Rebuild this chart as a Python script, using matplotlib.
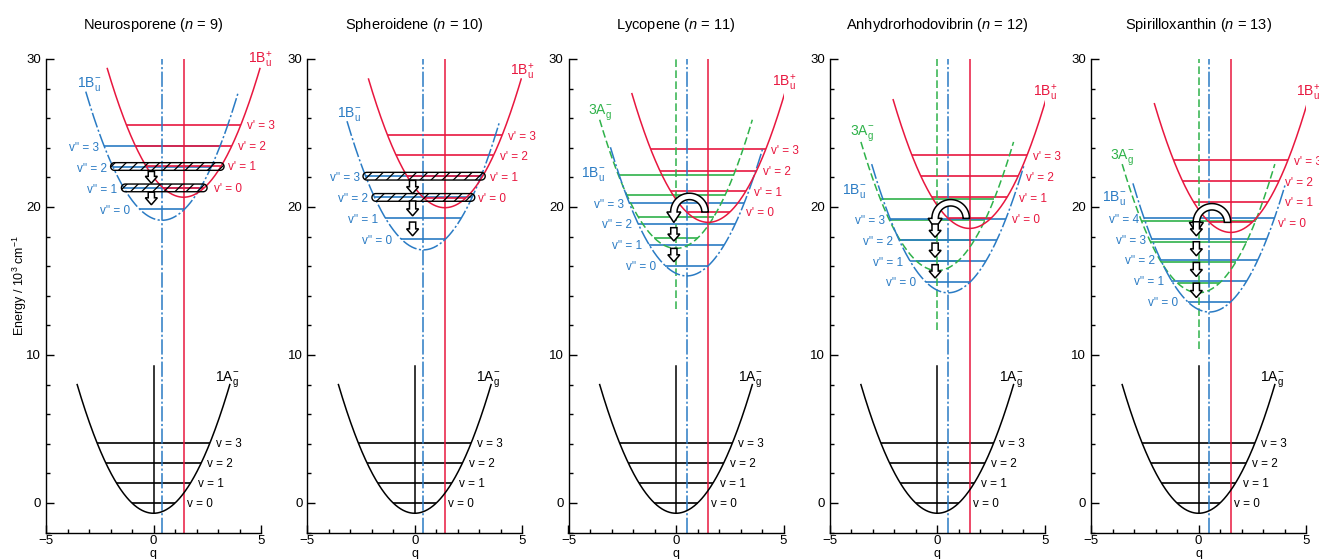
import numpy as np
import matplotlib
matplotlib.use("Agg")
import matplotlib.pyplot as plt
from matplotlib.patches import Polygon, FancyArrow
from matplotlib.ticker import MultipleLocator

plt.rcParams['font.family'] = ['Liberation Sans', 'DejaVu Sans']
plt.rcParams['mathtext.fontset'] = 'custom'
plt.rcParams['mathtext.rm'] = 'Liberation Sans'
plt.rcParams['mathtext.it'] = 'Liberation Sans:italic'
plt.rcParams['mathtext.bf'] = 'Liberation Sans:bold'
plt.rcParams['hatch.linewidth'] = 0.9

# ---------------------------------------------------------------- data
names = ["Neurosporene", "Spheroidene", "Lycopene", "Anhydrorhodovibrin", "Spirilloxanthin"]
n_conj = [9, 10, 11, 12, 13]

# energies in 10^3 cm^-1, displacements along q
ground_min = -0.7
ground_levels = [0.0, 1.35, 2.7, 4.05]
ground_line_top = 9.25

bu_minus_shift = [0.4, 0.4, 0.5, 0.5, 0.5]
bu_plus_shift = [1.4, 1.4, 1.5, 1.5, 1.5]
ag3_shift = [None, None, 0.0, 0.0, 0.0]

bu_minus_min = [19.10, 17.10, 15.34, 14.20, 12.90]
bu_plus_min = [20.66, 19.95, 18.96, 18.55, 18.28]
ag3_min = [None, None, 17.20, 15.70, 14.20]
ag3_line_bottom = [None, None, 13.1, 11.7, 10.4]

bu_minus_levels = [
    [19.84, 21.27, 22.67, 24.09],
    [17.83, 19.25, 20.66, 22.08],
    [16.02, 17.44, 18.85, 20.25],
    [14.94, 16.34, 17.76, 19.17],
    [13.60, 15.03, 16.43, 17.83, 19.23],
]
bu_plus_levels = [
    [21.31, 22.80, 24.14, 25.56],
    [20.63, 22.08, 23.48, 24.86],
    [19.66, 21.06, 22.46, 23.89],
    [19.23, 20.66, 22.08, 23.48],
    [18.96, 20.36, 21.74, 23.16],
]
ag3_levels = [
    [],
    [],
    [17.90, 19.35, 20.80, 22.17],
    [16.32, 17.74, 19.15, 20.56],
    [14.83, 16.25, 17.65, 19.05],
]

# mixed vibronic pairs (1Bu- index, 1Bu+ index)
mixed_pairs = [[(2, 1), (1, 0)], [(3, 1), (2, 0)], [], [], []]

# downhill relaxation steps (start, end)
relax_steps = [
    [(22.40, 21.60), (21.00, 20.15)],
    [(21.80, 20.90), (20.40, 19.40), (18.98, 18.05)],
    [(18.60, 17.70), (17.20, 16.30)],
    [(18.85, 17.95), (17.56, 16.60), (16.10, 15.20)],
    [(19.00, 18.05), (17.65, 16.70), (16.25, 15.30), (14.85, 13.88)],
]
has_crossing = [False, False, True, True, True]

# state-label anchors (q, E)
bu_plus_label_at = [(4.40, 29.69), (4.41, 28.90), (4.48, 28.14), (4.47, 27.44), (4.55, 27.44)]
bu_minus_label_at = [(-3.57, 28.14), (-3.61, 26.08), (-4.43, 22.00), (-4.43, 20.88), (-4.47, 20.43)]
ag3_label_at = [None, None, (-4.09, 26.30), (-4.08, 24.83), (-4.13, 23.25)]
ground_label_at = (2.87, 8.22)

# ---------------------------------------------------------------- style
RED = '#e8173f'
BLUE = '#2a7bc4'
GREEN = '#2fb24a'
K = 0.69
SPAN = 3.55
DASHDOT = (0, (10, 1.6, 1.4, 1.6))
DASHED = (0, (5, 2.2))
ARROW_Q = -0.1

W, H = 1319, 559
AX_W = 215.0
AX_TOP, AX_BOT = 59.0, 532.5
Q_PER_PX = 10.0 / AX_W
E_PER_PX = 32.0 / (AX_BOT - AX_TOP)


def half_width(e, emin):
    return np.sqrt(max(e - emin, 0.0) / K)


def branch(e, c, emin, side):
    hw = half_width(e, emin)
    if hw > SPAN or e < emin:
        return None, None
    return c + side * hw, hw


def well(ax, c, emin, color, ls, lw, z=3):
    q = np.linspace(c - SPAN, c + SPAN, 300)
    ax.plot(q, emin + K * (q - c) ** 2, color=color, ls=ls, lw=lw, zorder=z)


def level(ax, c, emin, e, color, z=2):
    hw = half_width(e, emin)
    ax.plot([c - hw, c + hw], [e, e], color=color, lw=1.2, zorder=z,
            solid_capstyle='butt')


def label_x(e, curves, side, extra=None):
    best, slope_hw = None, None
    for c, emin in curves:
        x, hw = branch(e, c, emin, side)
        if x is None:
            continue
        if best is None or side * x > side * best:
            best, slope_hw = x, hw
    x = best + side * (0.15 + 0.3 / max(slope_hw, 0.5))
    if extra is not None:
        x = max(x, extra) if side > 0 else min(x, extra)
    return x


def stadium(ax, x0, x1, yc, h=0.26):
    rq = (h / E_PER_PX) * Q_PER_PX
    t = np.linspace(-np.pi / 2, np.pi / 2, 24)
    right = [(x1 - rq + rq * np.cos(a), yc + h * np.sin(a)) for a in t]
    t2 = np.linspace(np.pi / 2, 3 * np.pi / 2, 24)
    left = [(x0 + rq + rq * np.cos(a), yc + h * np.sin(a)) for a in t2]
    ax.add_patch(Polygon(right + left, closed=True, facecolor='none',
                         edgecolor='black', hatch='///', lw=1.0, zorder=5))


def u_turn(ax, x_right, x_left, y0):
    cx = 0.5 * (x_right + x_left)
    rm = 0.5 * (x_right - x_left) / Q_PER_PX
    hb = 3.2
    ro, ri = rm + hb, rm - hb
    t = np.linspace(0, np.pi, 60)
    outer = [(ro * np.cos(a), ro * np.sin(a)) for a in t]
    inner = [(ri * np.cos(a), ri * np.sin(a)) for a in t[::-1]]
    head = [(-rm - 7.0, 0.0), (-rm, -10.5), (-rm + 7.0, 0.0)]
    pts = outer + head + inner
    verts = [(cx + px * Q_PER_PX, y0 + py * E_PER_PX) for px, py in pts]
    ax.add_patch(Polygon(verts, closed=True, facecolor='white',
                         edgecolor='black', lw=1.1, zorder=7))


def down_arrow(ax, x, e0, e1):
    ax.add_patch(FancyArrow(x, e0, 0.0, e1 - e0, width=0.29, head_width=0.56,
                            head_length=0.47, length_includes_head=True,
                            facecolor='white', edgecolor='black', lw=1.1,
                            zorder=7))


# ---------------------------------------------------------------- figure
fig = plt.figure(figsize=(W / 100, H / 100), dpi=100)

for i in range(5):
    left_px = 46 + 261.25 * i
    ax = fig.add_axes([left_px / W, (H - AX_BOT) / H, AX_W / W, (AX_BOT - AX_TOP) / H])
    ax.set_xlim(-5, 5)
    ax.set_ylim(-2, 30)
    for s in ('top', 'right'):
        ax.spines[s].set_visible(False)
    for s in ('left', 'bottom'):
        ax.spines[s].set_linewidth(1.0)
    ax.xaxis.set_major_locator(MultipleLocator(5))
    ax.xaxis.set_minor_locator(MultipleLocator(1))
    ax.yaxis.set_major_locator(MultipleLocator(10))
    ax.yaxis.set_minor_locator(MultipleLocator(2))
    ax.tick_params(which='both', direction='in', width=1.0, labelsize=9.5)
    ax.tick_params(which='major', length=6)
    ax.tick_params(which='minor', length=3)
    ax.tick_params(axis='x', pad=2)
    ax.tick_params(axis='y', pad=3.5)

    cb, cr = bu_minus_shift[i], bu_plus_shift[i]
    mb, mr = bu_minus_min[i], bu_plus_min[i]

    # ground state 1Ag-
    well(ax, 0.0, ground_min, 'black', '-', 1.1)
    ax.plot([0, 0], [ground_min, ground_line_top], color='black', lw=1.1, zorder=3)
    for v, e in enumerate(ground_levels):
        level(ax, 0.0, ground_min, e, 'black')
        x = label_x(e, [(0.0, ground_min)], +1, extra=cr + 0.15)
        ax.text(x, e, f"v = {v}", fontsize=8.5, ha='left', va='center_baseline', color='black')
    ax.text(*ground_label_at, r'1A$_{\mathrm{g}}^{-}$', fontsize=10, ha='left',
            va='baseline', color='black')

    # 3Ag- state
    if ag3_min[i] is not None:
        cg, mg = ag3_shift[i], ag3_min[i]
        for e in ag3_levels[i]:
            level(ax, cg, mg, e, GREEN, z=2)
        well(ax, cg, mg, GREEN, DASHED, 1.1)
        ax.plot([cg, cg], [ag3_line_bottom[i], 30], color=GREEN, ls=DASHED, lw=1.1, zorder=2.5)
        lx, ly = ag3_label_at[i]
        ax.text(lx, ly, r'3A$_{\mathrm{g}}^{-}$', color=GREEN, fontsize=10,
                ha='left', va='baseline', zorder=8)

    # box extents for mixed levels
    box_left, box_right = {}, {}
    boxes = []
    for ib, ir in mixed_pairs[i]:
        eb, er = bu_minus_levels[i][ib], bu_plus_levels[i][ir]
        x0 = min(cb - half_width(eb, mb), cr - half_width(er, mr)) - 0.12
        x1 = max(cb + half_width(eb, mb), cr + half_width(er, mr)) + 0.12
        boxes.append((x0, x1, 0.5 * (eb + er)))
        box_left[ib] = x0
        box_right[ir] = x1

    # 1Bu- state
    for v, e in enumerate(bu_minus_levels[i]):
        level(ax, cb, mb, e, BLUE, z=2.2)
        x = label_x(e, [(cb, mb)], -1)
        if v in box_left:
            x = min(x, box_left[v] - 0.1)
        ax.text(x, e, f"v'' = {v}", fontsize=8.5, ha='right', va='center_baseline', color=BLUE)
    well(ax, cb, mb, BLUE, DASHDOT, 1.1)
    ax.axvline(cb, color=BLUE, ls=DASHDOT, lw=1.1, zorder=2.5)

    # 1Bu+ state
    for v, e in enumerate(bu_plus_levels[i]):
        level(ax, cr, mr, e, RED, z=2.2)
        x = label_x(e, [(cr, mr), (cb, mb)], +1)
        if v in box_right:
            x = max(x, box_right[v] + 0.1)
        ax.text(x, e, f"v' = {v}", fontsize=8.5, ha='left', va='center_baseline', color=RED)
    well(ax, cr, mr, RED, '-', 1.1)
    ax.axvline(cr, color=RED, lw=1.1, zorder=2.5)

    ax.text(*bu_plus_label_at[i], r'1B$_{\mathrm{u}}^{+}$', color=RED, fontsize=10,
            ha='left', va='baseline', zorder=8)
    ax.text(*bu_minus_label_at[i], r'1B$_{\mathrm{u}}^{-}$', color=BLUE, fontsize=10,
            ha='left', va='baseline', zorder=8)

    for x0, x1, yc in boxes:
        stadium(ax, x0, x1, yc)

    if has_crossing[i]:
        u_turn(ax, cr - 0.15, ARROW_Q, bu_plus_levels[i][0])
    for e0, e1 in relax_steps[i]:
        down_arrow(ax, ARROW_Q, e0, e1)

    centre_px = left_px + AX_W / 2
    fig.text(centre_px / W, 1 - 25 / H, f"{names[i]} ($n$ = {n_conj[i]})",
             ha='center', va='center', fontsize=10.5)
    fig.text(centre_px / W, 1.5 / H, "q", ha='center', va='baseline', fontsize=9)

fig.text(20 / W, 1 - 285 / H, r'Energy / 10$^{3}$ cm$^{-1}$', rotation=90,
         ha='center', va='center', fontsize=9)

fig.savefig('out.png', dpi=100)
